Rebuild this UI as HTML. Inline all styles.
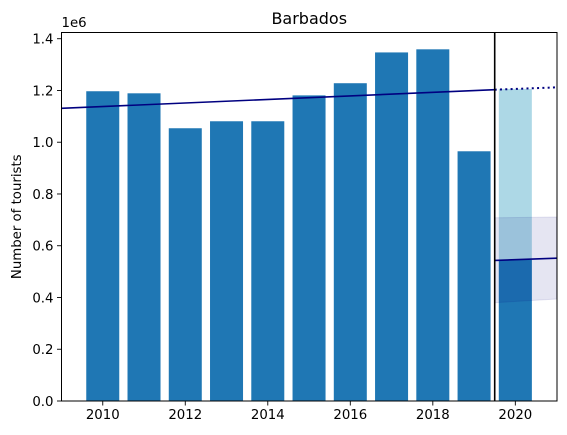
<!DOCTYPE html>
<html><head><meta charset="utf-8"><style>
body{margin:0;background:#fff}
svg{display:block;font-family:"DejaVu Sans","Liberation Sans",sans-serif}
</style></head><body>
<svg id="chart" width="567" height="435" viewBox="0 0 567 435" xmlns="http://www.w3.org/2000/svg"></svg>
<script>
const years = [2010,2011,2012,2013,2014,2015,2016,2017,2018,2019];
const tourists = [1.197,1.189,1.054,1.081,1.081,1.181,1.228,1.347,1.359,0.965];
const predYear = 2020;
const predValue = 1.206;
const actualValue = 0.545;
const trendX = [2009,2019.5];
const trendY = [1.131,1.203];
const trendExtX = [2019.5,2021];
const trendExtY = [1.203,1.212];
const lowX = [2019.5,2021];
const lowY = [0.543,0.552];
const bandTop = [0.708,0.711];
const bandBottom = [0.380,0.394];
const xTicks = [2010,2012,2014,2016,2018,2020];
const yTicks = [0,0.2,0.4,0.6,0.8,1.0,1.2,1.4];
const cutYear = 2019.5;

const L=61.5,R=557,T=32.5,B=401;
const xmin=2009,xmax=2021.01,ymax=1.424;
const sx=v=>L+(v-xmin)/(xmax-xmin)*(R-L);
const sy=v=>B-v/ymax*(B-T);
const svg=document.getElementById('chart');
const NS='http://www.w3.org/2000/svg';
function mk(tag,attrs,parent){const e=document.createElementNS(NS,tag);for(const k in attrs)e.setAttribute(k,attrs[k]);(parent||svg).appendChild(e);return e;}
const bw=sx(2010.4)-sx(2009.6);
years.forEach((y,i)=>{
  const r=mk('rect',{x:sx(y)-bw/2,y:sy(tourists[i]),width:bw,height:B-sy(tourists[i]),fill:'#1f77b4'});
  
  
});
const pb=mk('rect',{x:sx(predYear)-bw/2,y:sy(predValue),width:bw,height:B-sy(predValue),fill:'#add8e6'});


const ab=mk('rect',{x:sx(predYear)-bw/2,y:sy(actualValue),width:bw,height:B-sy(actualValue),fill:'#1f77b4'});


const band=mk('polygon',{points:`${sx(lowX[0])},${sy(bandTop[0])} ${sx(lowX[1])},${sy(bandTop[1])} ${sx(lowX[1])},${sy(bandBottom[1])} ${sx(lowX[0])},${sy(bandBottom[0])}`,fill:'navy','fill-opacity':0.1,stroke:'navy','stroke-opacity':0.1});


const tl=mk('line',{x1:sx(trendX[0]),y1:sy(trendY[0]),x2:sx(trendX[1]),y2:sy(trendY[1]),stroke:'navy','stroke-width':1.6});


const te=mk('line',{x1:sx(trendExtX[0]),y1:sy(trendExtY[0]),x2:sx(trendExtX[1]),y2:sy(trendExtY[1]),stroke:'navy','stroke-width':2,'stroke-dasharray':'2,3.3'});


const ll=mk('line',{x1:sx(lowX[0]),y1:sy(lowY[0]),x2:sx(lowX[1]),y2:sy(lowY[1]),stroke:'navy','stroke-width':1.6});


const vl=mk('line',{x1:sx(cutYear),y1:T,x2:sx(cutYear),y2:B,stroke:'#000','stroke-width':1.6});


const fr=mk('rect',{x:L,y:T,width:R-L,height:B-T,fill:'none',stroke:'#000','stroke-width':1});


xTicks.forEach(t=>{
  mk('line',{x1:sx(t),y1:B,x2:sx(t),y2:B+4.5,stroke:'#000','stroke-width':0.9});
  const tx=mk('text',{x:sx(t),y:B+18,'font-size':'13.3px','text-anchor':'middle',fill:'#000'});
  tx.textContent=t;
  
  
});
yTicks.forEach(t=>{
  mk('line',{x1:L-4.5,y1:sy(t),x2:L,y2:sy(t),stroke:'#000','stroke-width':0.9});
  const tx=mk('text',{x:L-8,y:sy(t)+5,'font-size':'13.3px','text-anchor':'end',fill:'#000'});
  tx.textContent=t.toFixed(1);
  
  
});
const off=mk('text',{x:L,y:27,'font-size':'13.3px',fill:'#000'});off.textContent='1e6';


const ti=mk('text',{x:(L+R)/2,y:24,'font-size':'16px','text-anchor':'middle',fill:'#000'});ti.textContent='Barbados';


const yl=mk('text',{x:0,y:0,'font-size':'13.3px','text-anchor':'middle',fill:'#000',transform:`translate(21,${(T+B)/2}) rotate(-90)`});yl.textContent='Number of tourists';


</script>
</body></html>
